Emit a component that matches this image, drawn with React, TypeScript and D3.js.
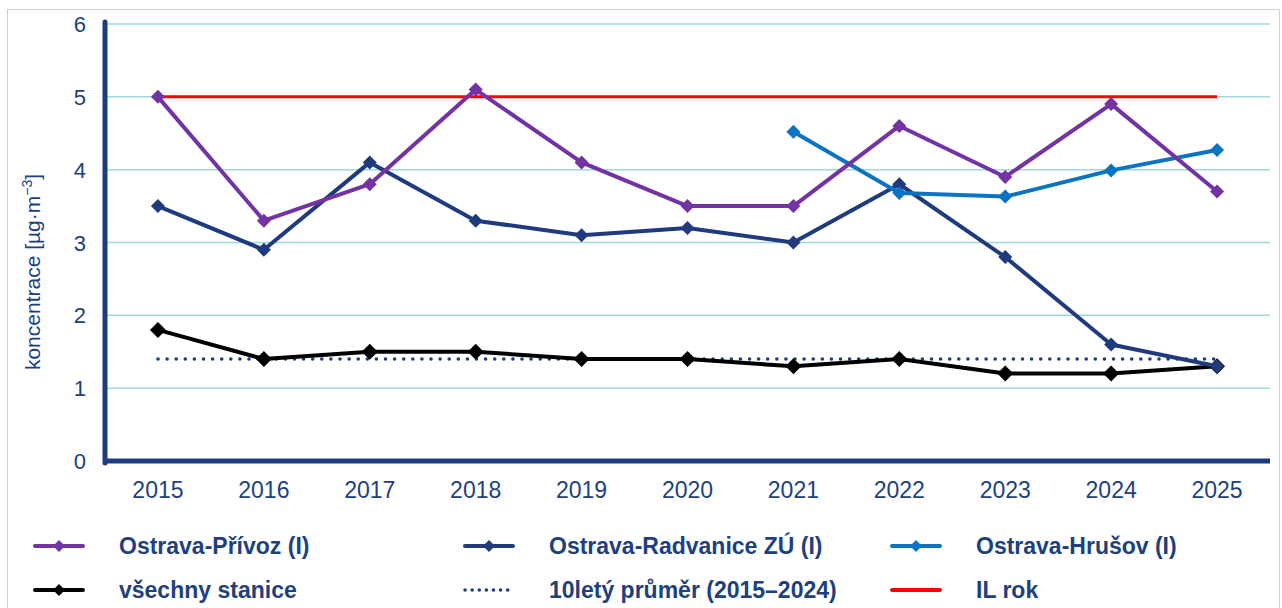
import React from 'react';
import * as d3 from 'd3';

const years = ['2015', '2016', '2017', '2018', '2019', '2020', '2021', '2022', '2023', '2024', '2025'];
const privoz = [5.0, 3.3, 3.8, 5.1, 4.1, 3.5, 3.5, 4.6, 3.9, 4.9, 3.7];
const radvanice = [3.5, 2.9, 4.1, 3.3, 3.1, 3.2, 3.0, 3.8, 2.8, 1.6, 1.3];
const hrusov = [null, null, null, null, null, null, 4.52, 3.68, 3.63, 3.99, 4.27];
const vsechny = [1.8, 1.4, 1.5, 1.5, 1.4, 1.4, 1.3, 1.4, 1.2, 1.2, 1.3];
const prumer = [1.4, 1.4, 1.4, 1.4, 1.4, 1.4, 1.4, 1.4, 1.4, 1.4, 1.4];
const ilRok = [5, 5, 5, 5, 5, 5, 5, 5, 5, 5, 5];
const yTicks = [0, 1, 2, 3, 4, 5, 6];

const navy = '#1f3c80';
const textCol = '#203f7e';

const series = [
  { name: 'IL rok', values: ilRok, color: '#ff0000', width: 3, marker: 0, dash: '' },
  { name: '10letý průměr (2015–2024)', values: prumer, color: '#1f3c80', width: 3.5, marker: 0, dash: '0.1 9' },
  { name: 'všechny stanice', values: vsechny, color: '#000000', width: 4, marker: 8, dash: '' },
  { name: 'Ostrava-Radvanice ZÚ (I)', values: radvanice, color: '#1f3b7d', width: 4, marker: 7, dash: '' },
  { name: 'Ostrava-Hrušov (I)', values: hrusov, color: '#0a74c2', width: 4, marker: 7, dash: '' },
  { name: 'Ostrava-Přívoz (I)', values: privoz, color: '#7333a3', width: 4, marker: 7, dash: '' },
];

const legend = [
  { name: 'Ostrava-Přívoz (I)', color: '#7333a3', dash: '', marker: true, col: 0, row: 0 },
  { name: 'Ostrava-Radvanice ZÚ (I)', color: '#1f3b7d', dash: '', marker: true, col: 1, row: 0 },
  { name: 'Ostrava-Hrušov (I)', color: '#0a74c2', dash: '', marker: true, col: 2, row: 0 },
  { name: 'všechny stanice', color: '#000000', dash: '', marker: true, col: 0, row: 1 },
  { name: '10letý průměr (2015–2024)', color: '#1f3c80', dash: '0.1 7', marker: false, col: 1, row: 1 },
  { name: 'IL rok', color: '#ff0000', dash: '', marker: false, col: 2, row: 1 },
];

export default function App() {
  const W = 1282, H = 608;
  const left = 105, right = 1270, top = 24, bottom = 461;
  const x = d3.scaleBand().domain(years).range([left, right]);
  const cx = (i: number) => (x(years[i]) as number) + x.bandwidth() / 2;
  const y = d3.scaleLinear().domain([0, 6]).range([bottom, top]);
  const font = 'Liberation Sans, Arial, sans-serif';

  const diamond = (px: number, py: number, r: number) =>
    `M${px},${py - r}L${px + r},${py}L${px},${py + r}L${px - r},${py}Z`;

  const colX = [35, 465, 892];
  const rowY = [546, 590];

  return (
    <svg width={W} height={H} style={{ position: 'absolute', left: 0, top: 0 }} fontFamily={font}>
      <rect x={7.5} y={9.5} width={1272} height={610} fill="white" stroke="#d0d0d0" />
      {yTicks.slice(1).map(t => (
        <line key={t} x1={left} x2={right} y1={y(t)} y2={y(t)} stroke="#9fd8df" strokeWidth={1.5} />
      ))}
      {yTicks.map(t => (
        <text key={t} x={86} y={y(t) + 8} textAnchor="end" fontSize={22} fill={textCol}>{t}</text>
      ))}
      {years.map((yr, i) => (
        <text key={yr} x={cx(i)} y={498} textAnchor="middle" fontSize={23} fill={textCol}>{yr}</text>
      ))}
      <text transform="translate(40,272) rotate(-90)" textAnchor="middle" fontSize={21} fill={textCol}>
        koncentrace [µg·m<tspan dy={-8} fontSize={14}>−3</tspan><tspan dy={8}>]</tspan>
      </text>
      {series.map(s => {
        const line = d3.line<number | null>()
          .defined(v => v !== null)
          .x((_, i) => cx(i))
          .y(v => y(v as number));
        return (
          <g key={s.name}>
            <path d={line(s.values) || ''} fill="none" stroke={s.color} strokeWidth={s.width}
              strokeDasharray={s.dash || undefined} strokeLinecap={s.dash ? 'round' : 'butt'} strokeLinejoin="round" />
            {s.marker > 0 && s.values.map((v, i) => v === null ? null : (
              <path key={i} d={diamond(cx(i), y(v), s.marker)} fill={s.color} />
            ))}
          </g>
        );
      })}
      <line x1={left} x2={left} y1={top - 2} y2={bottom + 2} stroke={navy} strokeWidth={5} strokeLinecap="round" />
      <line x1={left} x2={right} y1={bottom} y2={bottom} stroke={navy} strokeWidth={5} />
      {legend.map(l => {
        const lx = colX[l.col], ly = rowY[l.row];
        return (
          <g key={l.name}>
            <line x1={lx} x2={lx + 48} y1={ly} y2={ly} stroke={l.color} strokeWidth={l.dash ? 3.5 : 4}
              strokeDasharray={l.dash || undefined} strokeLinecap="round" />
            {l.marker && <path d={diamond(lx + 24, ly, 6)} fill={l.color} />}
            <text x={lx + 84} y={ly + 8} fontSize={23} fontWeight="bold" fill={textCol}>{l.name}</text>
          </g>
        );
      })}
    </svg>
  );
}
